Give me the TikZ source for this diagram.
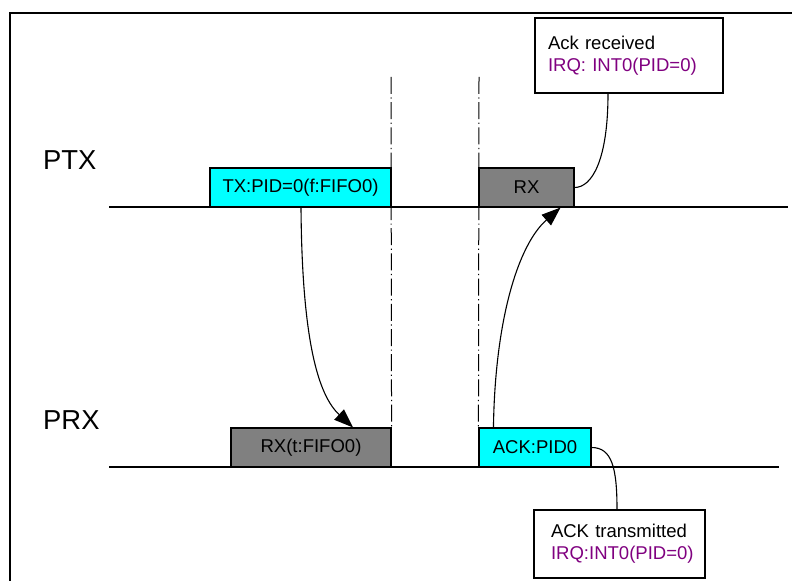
\documentclass[tikz,border=0pt]{standalone}
\usepackage{fontspec}
\setmainfont{Liberation Sans}
\usetikzlibrary{arrows.meta,calc}
\definecolor{boxcyan}{RGB}{0,255,255}
\definecolor{boxgray}{RGB}{128,128,128}
\definecolor{irq}{RGB}{128,0,128}
\begin{document}
\begin{tikzpicture}[x=1bp,y=-1bp,
  box/.style={draw, line width=1.1bp, minimum height=39bp, inner sep=0pt, font=\fontsize{18.6}{22}\selectfont},
  note/.style={draw, line width=1.1bp, inner ysep=0pt, align=left, font=\fontsize{18.6}{22}\selectfont},
  lane/.style={line width=1.2bp},
  sep/.style={line width=1bp, dash pattern=on 17bp off 3.5bp on 1.2bp off 3.5bp},
  lbl/.style={inner sep=0pt, anchor=west, font=\fontsize{27.5}{30}\selectfont},
  conn/.style={line width=1.1bp},
  arr/.style={conn, -{Triangle[length=19bp,width=14bp]}}]
\useasboundingbox (0,0) rectangle (792,581);
\fill[white] (0,0) rectangle (792,581);
% frame (top and left only)
\coordinate (ftl) at (10,13);
\coordinate (ftr) at (792,13);
\coordinate (fbl) at (10,581);
\draw[line width=2.2bp] (fbl) -- (ftl) -- (ftr);
% lane labels
\node[lbl] (ptx) at (43,160) {PTX};
\node[lbl] (prx) at (43,420) {PRX};
% lanes
\coordinate (ptxa) at (109,207);
\coordinate (ptxb) at (788,207);
\coordinate (prxa) at (109,467);
\coordinate (prxb) at (779,467);
\draw[lane] (ptxa) -- (ptxb);
\draw[lane] (prxa) -- (prxb);
% boxes
\node[box, fill=boxcyan, minimum width=181bp] (tx) at (300.5,187.5) {TX:PID=0(f:FIFO0)};
\node[box, fill=boxgray, minimum width=95bp] (rxp) at (526.5,187.5) {RX};
\node[box, fill=boxgray, minimum width=160bp] (rxt) at (311,447.5) {RX(t:FIFO0)};
\node[box, fill=boxcyan, minimum width=112bp] (ack) at (535,447.5) {ACK:PID0};
% separators
\coordinate (d1top) at (391,77);
\coordinate (d2top) at (479,77);
\draw[sep] (d1top) -- (rxt.north east);
\draw[sep] (d2top) -- (ack.north west);
% notes
\node[note, inner xsep=13bp, text width=162bp, minimum height=75bp] (ackr) at (629,55.5)
  {Ack received\\\textcolor{irq}{IRQ: INT0(PID=0)}};
\node[note, inner xsep=17bp, text width=137bp, minimum height=68bp] (ackt) at (619.5,544)
  {ACK transmitted\\\textcolor{irq}{IRQ:INT0(PID=0)}};
% arrows
\draw[arr] ($(tx.south)+(0.5,0)$) .. controls (302,340) and (318,395) .. ($(rxt.north)+(42,0)$);
\draw[arr] ($(ack.north west)+(15,0)$) .. controls (495,320) and (518,245) .. ($(rxp.south east)+(-14,0)$);
% note connectors
\draw[conn] ($(ackr.south)+(-21,0)$) .. controls (608,160) and (592,187.5) .. (rxp.east);
\draw[conn] (ack.east) .. controls (612,447.5) and (617,468) .. ($(ackt.north)+(-2.5,0)$);
\end{tikzpicture}
\end{document}
